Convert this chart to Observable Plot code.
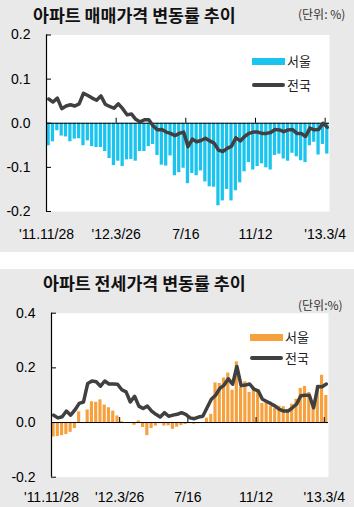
<!DOCTYPE html>
<html><head><meta charset="utf-8">
<script src="https://cdn.jsdelivr.net/npm/d3@7"></script>
<script src="https://cdn.jsdelivr.net/npm/@observablehq/plot@0.6"></script>
<style>
body{margin:0;background:#fff;}
#root{position:relative;width:354px;height:507px;overflow:hidden;font-family:"Liberation Sans",Arial,sans-serif}
.panel{position:absolute;left:0;width:354px;background:#e9e9e9}
.title{position:absolute;font-family:"Noto Sans CJK KR";font-weight:bold;font-size:17.3px;color:#111;line-height:17px;white-space:nowrap}
.unit{position:absolute;font-family:"Noto Sans CJK KR";font-size:12px;color:#333;line-height:12px;white-space:nowrap}
.chart{position:absolute;left:0}
.sw{position:absolute}
.lgt{position:absolute;font-family:"Noto Sans CJK KR";font-size:13px;line-height:13px;color:#222;white-space:nowrap}
</style></head>
<body>
<div id="root">
  <div class="panel" style="top:0;height:252px"></div>
  <div class="panel" style="top:269px;height:238px"></div>
  <div class="title" style="left:33px;top:6px">아파트 매매가격 변동률 추이</div>
  <div class="unit" style="left:298px;top:8px">(단위: %)</div>
  <div class="title" style="left:43px;top:274px">아파트 전세가격 변동률 추이</div>
  <div class="unit" style="left:298px;top:299px">(단위:%)</div>
  <div id="c1" class="chart" style="top:24px"></div>
  <div id="c2" class="chart" style="top:290px"></div>
  <div id="lg1"></div>
  <div id="lg2"></div>
</div>
<script>
// weekly change rates (%), 65 weeks, '11.11/28 .. '13.3/4
const tickIdx = [0, 16, 32, 48, 64];
const tickLabels = ["'11.11/28", "'12.3/26", "7/16", "11/12", "'13.3/4"];
const seriesNames = ["서울", "전국"];

// 아파트 매매가격 변동률
const saleSeoul = [-0.051,-0.042,-0.017,-0.029,-0.031,-0.042,-0.036,-0.035,-0.051,-0.040,
  -0.053,-0.055,-0.055,-0.064,-0.080,-0.096,-0.086,-0.098,-0.083,-0.082,
  -0.086,-0.064,-0.064,-0.053,-0.048,-0.073,-0.095,-0.097,-0.074,-0.119,
  -0.112,-0.102,-0.137,-0.114,-0.119,-0.108,-0.133,-0.144,-0.145,-0.187,
  -0.176,-0.150,-0.176,-0.153,-0.135,-0.110,-0.089,-0.106,-0.098,-0.092,
  -0.101,-0.106,-0.073,-0.070,-0.081,-0.086,-0.068,-0.076,-0.085,-0.089,
  -0.051,-0.043,-0.072,-0.048,-0.070];
const saleNation = [0.055,0.048,0.057,0.033,0.039,0.042,0.039,0.044,0.068,0.063,
  0.057,0.052,0.062,0.043,0.038,0.034,0.044,0.033,0.019,0.021,
  0.009,0.003,0.008,0.008,-0.006,-0.015,-0.014,-0.020,-0.023,-0.028,
  -0.023,-0.020,-0.053,-0.036,-0.042,-0.039,-0.034,-0.040,-0.045,-0.061,
  -0.064,-0.057,-0.052,-0.033,-0.040,-0.030,-0.023,-0.020,-0.020,-0.023,
  -0.023,-0.021,-0.014,-0.015,-0.019,-0.015,-0.014,-0.023,-0.023,-0.030,
  -0.011,-0.015,-0.014,0.000,-0.009];

// 아파트 전세가격 변동률
const jeonseSeoul = [-0.053,-0.051,-0.048,-0.044,-0.036,-0.022,0.039,0.000,0.046,0.076,
  0.074,0.083,0.064,0.054,0.042,0.024,0.003,0.000,-0.002,-0.010,
  0.006,-0.018,-0.048,-0.022,-0.013,-0.004,-0.013,-0.012,-0.025,-0.017,
  -0.011,-0.007,-0.004,-0.006,-0.004,-0.003,0.016,0.030,0.145,0.143,
  0.163,0.181,0.118,0.222,0.128,0.149,0.110,0.128,0.120,0.070,
  0.073,0.060,0.052,0.060,0.058,0.048,0.067,0.085,0.125,0.132,
  0.110,0.055,0.135,0.173,0.099];
const jeonseNation = [0.027,0.017,0.021,0.042,0.027,0.046,0.070,0.075,0.143,0.152,
  0.149,0.133,0.152,0.141,0.141,0.140,0.120,0.112,0.075,0.096,
  0.060,0.051,0.060,0.042,0.030,0.020,0.036,0.023,0.027,0.030,
  0.036,0.030,0.017,0.014,0.020,0.023,0.054,0.085,0.100,0.125,
  0.137,0.160,0.140,0.205,0.135,0.137,0.141,0.122,0.116,0.085,
  0.077,0.069,0.060,0.048,0.042,0.042,0.054,0.067,0.098,0.100,
  0.100,0.054,0.132,0.131,0.141];

const LINE = "#404040";

function makeChart({bars, line, color, yDomain, yTicks, height, mt, mb, ml, mr, pad}) {
  const data = bars.map((v, i) => ({i, bar: v, line: line[i]}));
  return Plot.plot({
    width: 354, height,
    marginTop: mt, marginBottom: mb, marginLeft: ml, marginRight: mr,
    style: {fontFamily: "'Liberation Sans', Arial, sans-serif", fontSize: "14px", color: "#000", background: "transparent", overflow: "visible"},
    x: {domain: [0, bars.length], label: null},
    y: {domain: yDomain, label: null},
    marks: [
      Plot.frame({fill: "white", stroke: null}),
      Plot.rectY(data, {x1: "i", x2: d => d.i + 1, y1: 0, y2: "bar", fill: color, insetLeft: 0.5, insetRight: 0.6}),
      Plot.ruleY([0], {stroke: "#000", strokeWidth: 1}),
      Plot.ruleX(tickIdx, {x: d => d, y1: 0, y2: 0, insetBottom: 5, stroke: "#000"}),
      Plot.ruleX([0], {stroke: "#000", strokeWidth: 1.2}),
      Plot.ruleY(yTicks, {x1: 0, x2: 0, insetRight: -5, stroke: "#000"}),
      Plot.lineY(data, {x: d => d.i + 0.5, y: "line", stroke: LINE, strokeWidth: 3.5, strokeLinejoin: "round", strokeLinecap: "round"}),
      Plot.axisY(yTicks, {tickSize: 0, tickPadding: 16, tickFormat: d => d.toFixed(1), fontSize: 14, label: null}),
      Plot.axisX(tickIdx, {tickSize: 0, tickPadding: pad, tickFormat: d => tickLabels[tickIdx.indexOf(d)], fontSize: 14, label: null})
    ]
  });
}

document.getElementById("c1").appendChild(makeChart({
  bars: saleSeoul, line: saleNation, color: "#19c4ef",
  yDomain: [-0.2, 0.2], yTicks: [-0.2, -0.1, 0, 0.1, 0.2],
  height: 222, mt: 10.5, mb: 35, ml: 46, mr: 25, pad: 18
}));
document.getElementById("c2").appendChild(makeChart({
  bars: jeonseSeoul, line: jeonseNation, color: "#f7a13e",
  yDomain: [-0.2, 0.4], yTicks: [-0.2, 0, 0.2, 0.4],
  height: 217, mt: 22.7, mb: 30.3, ml: 51, mr: 26, pad: 15
}));

function legend(el, x, yBar, yLine, color) {
  const host = document.getElementById(el);
  const items = [
    {name: seriesNames[0], y: yBar, kind: "bar"},
    {name: seriesNames[1], y: yLine, kind: "line"}
  ];
  for (const it of items) {
    const sw = document.createElement("div");
    sw.className = "sw";
    if (it.kind === "bar") {
      sw.style.cssText = `left:${x}px;top:${it.y - 3.5}px;width:33px;height:7px;background:${color}`;
    } else {
      sw.style.cssText = `left:${x}px;top:${it.y - 2}px;width:33px;height:4px;border-radius:2px;background:${LINE}`;
    }
    host.appendChild(sw);
    const t = document.createElement("div");
    t.className = "lgt";
    t.style.left = (x + 35) + "px";
    t.style.top = (it.y - 7) + "px";
    t.textContent = it.name;
    host.appendChild(t);
  }
}
legend("lg1", 252, 61, 84.5, "#19c4ef");
legend("lg2", 250, 337, 358, "#f7a13e");
</script>
</body></html>
